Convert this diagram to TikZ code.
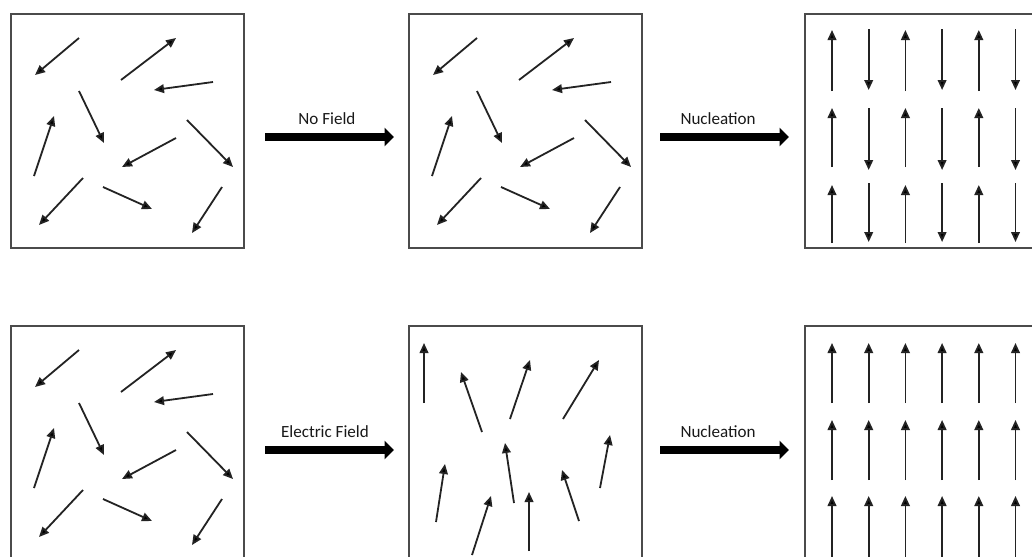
\documentclass[tikz,border=0pt]{standalone}
\usepackage{fontspec}
\setmainfont{Carlito}
\usetikzlibrary{arrows.meta}
\definecolor{framegray}{RGB}{75,75,75}
\definecolor{dipole}{RGB}{35,35,35}
\tikzset{
  panel/.style={draw=framegray, line width=2.1pt, minimum width=174.75pt,
    minimum height=175.5pt, anchor=north west, inner sep=0pt, outer sep=0pt},
  dip/.style={draw=dipole, line width=1.35pt,
    -{Triangle[length=7.5pt,width=6.5pt,fill=black]}},
  bigarrow/.style={draw=black, line width=6.2pt,
    -{Triangle[length=7pt,width=13.5pt]}},
  steplabel/.style={font=\fontsize{12.8pt}{14pt}\selectfont, text=black!90}
}
% randomly oriented dipoles, in local pixel coordinates of a panel
\newcommand\randomdipoles{%
  \draw[dip] (68,24) -- (24,61);
  \draw[dip] (110,66) -- (165,24);
  \draw[dip] (202,68) -- (143,76);
  \draw[dip] (68,77) -- (93,129);
  \draw[dip] (23,162) -- (43,102);
  \draw[dip] (165,124) -- (111,153);
  \draw[dip] (176,106) -- (222,153);
  \draw[dip] (72,164) -- (28,211);
  \draw[dip] (92,173) -- (141,195);
  \draw[dip] (211,173) -- (181,219);
}
\begin{document}
\begin{tikzpicture}[x=0.75pt,y=-0.75pt]
\useasboundingbox (0,0) rectangle (1032,557);
\fill[white] (0,0) rectangle (1032,557);
\clip (0,0) rectangle (1032,557);

% panels
\node[panel] (p1) at (11,14) {};
\node[panel] (p2) at (409,14) {};
\node[panel] (p3) at (805,14) {};
\node[panel] (p4) at (11,326) {};
\node[panel] (p5) at (409,326) {};
\node[panel] (p6) at (805,326) {};

% unpolarised panels
\begin{scope}[shift={(p1.north west)}] \randomdipoles \end{scope}
\begin{scope}[shift={(p2.north west)}] \randomdipoles \end{scope}
\begin{scope}[shift={(p4.north west)}] \randomdipoles \end{scope}

% antiparallel domains after nucleation without field
\begin{scope}[shift={(p3.north west)}]
  \foreach \c in {0,2,4} {
    \draw[dip] ({27+36.7*\c},77) -- ({27+36.7*\c},16);
    \draw[dip] ({27+36.7*\c},153) -- ({27+36.7*\c},94);
    \draw[dip] ({27+36.7*\c},229) -- ({27+36.7*\c},171);
  }
  \foreach \c in {1,3,5} {
    \draw[dip] ({27+36.7*\c},15) -- ({27+36.7*\c},76);
    \draw[dip] ({27+36.7*\c},94) -- ({27+36.7*\c},156);
    \draw[dip] ({27+36.7*\c},169) -- ({27+36.7*\c},228);
  }
\end{scope}

% partially aligned dipoles under an electric field
\begin{scope}[shift={(p5.north west)}]
  \draw[dip] (15,77) -- (15,17);
  \draw[dip] (73,106) -- (52,46);
  \draw[dip] (101,93) -- (121,34);
  \draw[dip] (154,93) -- (190,34);
  \draw[dip] (191,162) -- (201,109);
  \draw[dip] (105,177) -- (96,117);
  \draw[dip] (27,196) -- (36,138);
  \draw[dip] (63,229) -- (82,170);
  \draw[dip] (120,225) -- (120,166);
  \draw[dip] (170,195) -- (153,144);
\end{scope}

% fully aligned domains after nucleation under field
\begin{scope}[shift={(p6.north west)}]
  \foreach \c in {0,...,5} {
    \draw[dip] ({27+36.7*\c},77) -- ({27+36.7*\c},17);
    \draw[dip] ({27+36.7*\c},154) -- ({27+36.7*\c},94);
    \draw[dip] ({27+36.7*\c},234) -- ({27+36.7*\c},170);
  }
\end{scope}

% process arrows
\draw[bigarrow] ([shift={(21,6)}]p1.east) -- ([shift={(-15,6)}]p2.west)
  node[steplabel, pos=.48, yshift=14pt] {No Field};
\draw[bigarrow] ([shift={(18,6)}]p2.east) -- ([shift={(-16,6)}]p3.west)
  node[steplabel, pos=.45, yshift=14pt] {Nucleation};
\draw[bigarrow] ([shift={(21,7)}]p4.east) -- ([shift={(-15,7)}]p5.west)
  node[steplabel, pos=.465, yshift=14pt] {Electric Field};
\draw[bigarrow] ([shift={(18,7)}]p5.east) -- ([shift={(-16,7)}]p6.west)
  node[steplabel, pos=.45, yshift=14pt] {Nucleation};
\end{tikzpicture}
\end{document}
